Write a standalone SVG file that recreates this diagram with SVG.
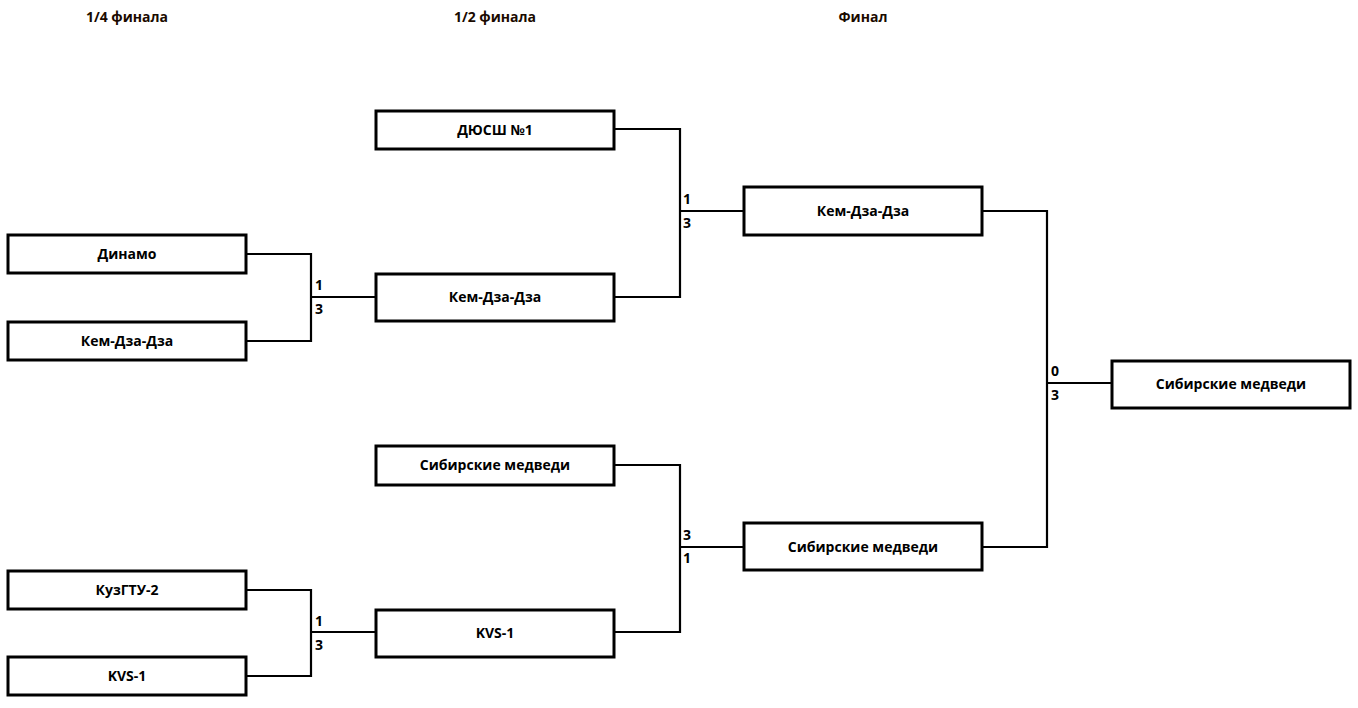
<svg xmlns="http://www.w3.org/2000/svg" width="1358" height="708" viewBox="0 0 1358 708">
<style>
.box{fill:#fff;stroke:#000;stroke-width:3}
.lbl{font-family:"Open Sans","Noto Sans",sans-serif;font-weight:bold;font-size:14px;fill:#000;text-anchor:middle}
.hdr{font-family:"Open Sans","Noto Sans",sans-serif;font-weight:bold;font-size:14px;fill:#1a0a00;text-anchor:middle}
.sc{font-family:"Open Sans","Noto Sans",sans-serif;font-weight:bold;font-size:14px;fill:#000}
.ln{fill:none;stroke:#000;stroke-width:2.2}
</style>
<rect width="1358" height="708" fill="#fff"/>
<g id="headers">
<text class="hdr" x="127" y="22">1/4 финала</text>
<text class="hdr" x="495" y="22">1/2 финала</text>
<text class="hdr" x="863" y="22">Финал</text>
</g>
<g id="connectors">
<path class="ln" d="M246,254 H311 V341 H246 M311,297 H376"/>
<path class="ln" d="M246,590 H311 V676 H246 M311,632 H376"/>
<path class="ln" d="M614,129 H680 V297 H614 M680,211 H744"/>
<path class="ln" d="M614,465 H680 V632 H614 M680,547 H744"/>
<path class="ln" d="M982,211 H1047 V547 H982 M1047,383 H1112"/>
<text class="sc" x="315" y="290">1</text>
<text class="sc" x="315" y="314">3</text>
<text class="sc" x="315" y="626">1</text>
<text class="sc" x="315" y="650">3</text>
<text class="sc" x="683" y="204">1</text>
<text class="sc" x="683" y="228">3</text>
<text class="sc" x="683" y="540">3</text>
<text class="sc" x="683" y="563">1</text>
<text class="sc" x="1051" y="376">0</text>
<text class="sc" x="1051" y="400">3</text>
</g>
<g id="q1"><rect class="box" x="8" y="235" width="238" height="38"/><text class="lbl" x="127" y="259">Динамо</text></g>
<g id="q2"><rect class="box" x="8" y="322" width="238" height="38"/><text class="lbl" x="127" y="346">Кем-Дза-Дза</text></g>
<g id="q3"><rect class="box" x="8" y="571" width="238" height="38"/><text class="lbl" x="127" y="595">КузГТУ-2</text></g>
<g id="q4"><rect class="box" x="8" y="657" width="238" height="38"/><text class="lbl" x="127" y="681">KVS-1</text></g>
<g id="s1"><rect class="box" x="376" y="111" width="238" height="38"/><text class="lbl" x="495" y="135">ДЮСШ №1</text></g>
<g id="s2"><rect class="box" x="376" y="274" width="238" height="47"/><text class="lbl" x="495" y="302">Кем-Дза-Дза</text></g>
<g id="s3"><rect class="box" x="376" y="446" width="238" height="39"/><text class="lbl" x="495" y="470">Сибирские медведи</text></g>
<g id="s4"><rect class="box" x="376" y="610" width="238" height="47"/><text class="lbl" x="495" y="638">KVS-1</text></g>
<g id="f1"><rect class="box" x="744" y="187" width="238" height="48"/><text class="lbl" x="863" y="216">Кем-Дза-Дза</text></g>
<g id="f2"><rect class="box" x="744" y="523" width="238" height="47"/><text class="lbl" x="863" y="552">Сибирские медведи</text></g>
<g id="w"><rect class="box" x="1112" y="361" width="238" height="47"/><text class="lbl" x="1231" y="389">Сибирские медведи</text></g>
</svg>
